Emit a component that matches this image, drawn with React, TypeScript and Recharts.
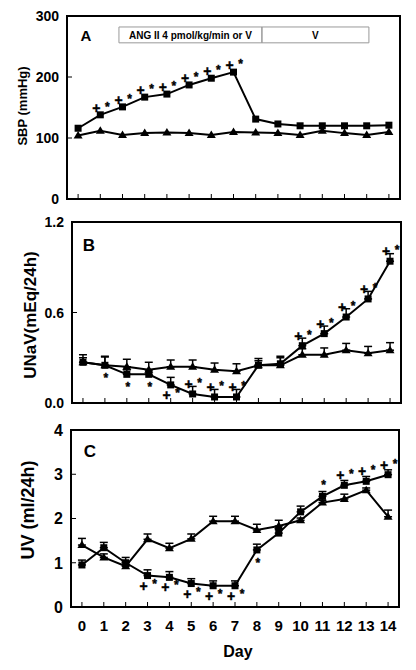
import React from 'react';
import { LineChart, Line, XAxis, YAxis, ErrorBar, ReferenceArea, LabelList } from 'recharts';

const FONT = '"Liberation Sans", Arial, Helvetica, sans-serif';

const days = [0, 1, 2, 3, 4, 5, 6, 7, 8, 9, 10, 11, 12, 13, 14];

// A: systolic blood pressure (mmHg)
const sbpAng = [116, 138, 151, 167, 172, 187, 198, 208, 131, 123, 120, 120, 120, 120, 121];
const sbpVeh = [104, 112, 105, 108, 109, 108, 105, 110, 109, 108, 105, 112, 108, 105, 110];
const sbpSig = ['', 'u+*', 'u+*', 'u+*', 'u+*', 'u+*', 'u+*', 'u+*', '', '', '', '', '', '', ''];

// B: urinary sodium excretion (mEq/24h)
const unavAng = [0.27, 0.25, 0.19, 0.19, 0.12, 0.06, 0.04, 0.04, 0.25, 0.26, 0.38, 0.46, 0.57, 0.69, 0.94];
const unavVeh = [0.27, 0.25, 0.24, 0.22, 0.24, 0.24, 0.22, 0.21, 0.25, 0.25, 0.32, 0.32, 0.35, 0.33, 0.35];
const unavAngErr = [0.03, 0.06, 0.03, 0.03, 0.05, 0.05, 0.05, 0.05, 0.03, 0.05, 0.05, 0.05, 0.055, 0.05, 0.05];
const unavVehErr = [0.05, 0.055, 0.05, 0.05, 0.045, 0.045, 0.045, 0.05, 0.045, 0.05, 0.04, 0.045, 0.045, 0.045, 0.05];
const unavSig = ['', 'd*', 'd*', 'd*', 'd+*', 'u+*', 'u+*', 'u+*', '', '', 'u+*', 'u+*', 'u+*', 'u+*', 'u+*'];

// C: urine volume (ml/24h)
const uvAng = [0.95, 1.34, 1.0, 0.71, 0.67, 0.53, 0.48, 0.48, 1.29, 1.67, 2.15, 2.5, 2.75, 2.84, 2.99];
const uvVeh = [1.4, 1.12, 0.92, 1.53, 1.33, 1.54, 1.94, 1.94, 1.74, 1.83, 1.96, 2.36, 2.44, 2.64, 2.04];
const uvAngErr = [0.11, 0.12, 0.12, 0.13, 0.13, 0.11, 0.11, 0.11, 0.13, 0.08, 0.13, 0.11, 0.11, 0.11, 0.11];
const uvVehErr = [0.15, 0.08, 0.1, 0.12, 0.11, 0.11, 0.11, 0.11, 0.13, 0.13, 0.05, 0.05, 0.11, 0.05, 0.15];
const uvSig = ['', '', '', 'd+*', 'd+*', 'd+*', 'd+*', 'd+*', 'd*', '', '', 'u*', 'u+*', 'u+*', 'u+*'];

const sbpTicks = [0, 100, 200, 300];
const unavTicks = [0, 0.6, 1.2];
const uvTicks = [0, 1, 2, 3, 4];

const buildRows = (ang: number[], veh: number[], angErr: number[] | null, vehErr: number[] | null, sig: string[]) =>
  days.map((d, i) => ({
    day: d,
    ang: ang[i],
    veh: veh[i],
    angErr: angErr ? angErr[i] : 0,
    vehErr: vehErr ? vehErr[i] : 0,
    sig: sig[i],
  }));

const squareDot = (p: any) => {
  if (p.cx == null || p.cy == null) return <g key={`s${p.index}`} />;
  return <rect key={`s${p.index}`} x={p.cx - 3.5} y={p.cy - 3.5} width={7} height={7} fill="#000" />;
};

const triDot = (p: any) => {
  if (p.cx == null || p.cy == null) return <g key={`t${p.index}`} />;
  const { cx, cy } = p;
  return <path key={`t${p.index}`} d={`M${cx},${cy - 4.5} L${cx + 4.5},${cy + 3} L${cx - 4.5},${cy + 3} Z`} fill="#000" />;
};

const markStyle = { fontWeight: 'bold' as const, fontFamily: FONT, fill: '#000', stroke: '#000', strokeWidth: 0.4 };

const sigContent = (upDy: number) => (props: any) => {
  const vb = props.viewBox || {};
  const x = props.x ?? vb.x;
  const y = props.y ?? vb.y;
  const value = props.value as string;
  if (!value || x == null || y == null) return null;
  const up = value[0] === 'u';
  const marks = value.slice(1);
  const plusY = up ? y + upDy : y + 10;
  const starY = up ? y + upDy - 3 : y + 6;
  if (marks === '*') {
    const sy = up ? y + upDy - 3 : y + 11;
    return (
      <text x={x + 1} y={sy + 6} textAnchor="middle" fontSize={12} {...markStyle}>*</text>
    );
  }
  return (
    <g>
      <text x={x - 4} y={plusY + 5} textAnchor="middle" fontSize={14} {...markStyle}>+</text>
      <text x={x + 7} y={starY + 6} textAnchor="middle" fontSize={12} {...markStyle}>*</text>
    </g>
  );
};

const xTick = (fontSize: number, showLabel: boolean) => (p: any) => (
  <g>
    <line x1={p.x} x2={p.x} y1={p.y} y2={p.y - 5} stroke="#000" strokeWidth={1} />
    {showLabel && (
      <text x={p.x} y={p.y + 24} textAnchor="middle" fontSize={fontSize} fontWeight="bold" fontFamily={FONT} fill="#000">
        {p.payload.value}
      </text>
    )}
  </g>
);

const yTick = (fontSize: number, fmt: (v: number) => string) => (p: any) => (
  <g>
    <line x1={p.x} x2={p.x + 5} y1={p.y} y2={p.y} stroke="#000" strokeWidth={1} />
    <text x={p.x - 8} y={p.y + fontSize * 0.36} textAnchor="end" fontSize={fontSize} fontWeight="bold" fontFamily={FONT} fill="#000">
      {fmt(p.payload.value)}
    </text>
  </g>
);

const yTitle = (text: string, offX: number, offY: number, fontSize: number) => (p: any) => {
  const vb = p.viewBox;
  const x = vb.x + offX;
  const y = vb.y + vb.height / 2 + offY;
  return (
    <text x={x} y={y} transform={`rotate(-90 ${x} ${y})`} textAnchor="middle" dy="0.36em" fontSize={fontSize} fontWeight="bold" fontFamily={FONT} fill="#000">
      {text}
    </text>
  );
};

const panelLetter = (letter: string, dx: number, dy: number, fontSize: number) => (p: any) => (
  <text x={p.viewBox.x + dx} y={p.viewBox.y + dy} textAnchor="middle" fontSize={fontSize} fontWeight="bold" fontFamily={FONT} fill="#000">
    {letter}
  </text>
);

const boxLabel = (text: string) => (p: any) => (
  <text x={p.viewBox.x + p.viewBox.width / 2} y={p.viewBox.y + p.viewBox.height / 2 + 3.6} textAnchor="middle" fontSize={10} fontWeight="bold" fontFamily={FONT} fill="#000">
    {text}
  </text>
);

const App: React.FC = () => {
  const rowsA = buildRows(sbpAng, sbpVeh, null, null, sbpSig);
  const rowsB = buildRows(unavAng, unavVeh, unavAngErr, unavVehErr, unavSig);
  const rowsC = buildRows(uvAng, uvVeh, uvAngErr, uvVehErr, uvSig);

  return (
    <div style={{ position: 'absolute', left: 0, top: 0, width: 416, height: 670, background: '#fff', fontFamily: FONT }}>
      <div style={{ position: 'absolute', left: 0, top: 0 }}>
        <LineChart width={416} height={215} data={rowsA} margin={{ top: 16, right: 16, bottom: 0, left: 0 }}>
          <XAxis dataKey="day" type="number" domain={[-0.5, 14.5]} ticks={days} interval={0} height={16}
            axisLine={false} tickLine={false} tickSize={0} tickMargin={0} tick={xTick(14, false)} />
          <YAxis type="number" domain={[0, 300]} ticks={sbpTicks} width={67} axisLine={false} tickLine={false}
            tickSize={0} tickMargin={0} tick={yTick(14, (v) => String(v))} label={yTitle('SBP (mmHg)', 22, -1.5, 13)} />
          <ReferenceArea x1={-0.5} x2={14.5} y1={0} y2={300} fill="none" stroke="#000" strokeWidth={2}
            label={panelLetter('A', 19, 25, 15)} />
          <ReferenceArea x1={1.84} x2={8.28} y1={256} y2={282} fill="none" stroke="#999" strokeWidth={1}
            label={boxLabel('ANG II 4 pmol/kg/min or V')} />
          <ReferenceArea x1={8.28} x2={13.1} y1={256} y2={282} fill="none" stroke="#999" strokeWidth={1}
            label={boxLabel('V')} />
          <Line dataKey="veh" stroke="#000" strokeWidth={2} dot={triDot} activeDot={false} isAnimationActive={false} />
          <Line dataKey="ang" stroke="#000" strokeWidth={2} dot={squareDot} activeDot={false} isAnimationActive={false}>
            <LabelList dataKey="sig" content={sigContent(-7)} />
          </Line>
        </LineChart>
      </div>

      <div style={{ position: 'absolute', left: 0, top: 210 }}>
        <LineChart width={416} height={210} data={rowsB} margin={{ top: 12, right: 15, bottom: 0, left: 0 }}>
          <XAxis dataKey="day" type="number" domain={[-0.5, 14.5]} ticks={days} interval={0} height={17}
            axisLine={false} tickLine={false} tickSize={0} tickMargin={0} tick={xTick(14, false)} />
          <YAxis type="number" domain={[0, 1.2]} ticks={unavTicks} width={72} axisLine={false} tickLine={false}
            tickSize={0} tickMargin={0} tick={yTick(14, (v) => v.toFixed(1))} label={yTitle('UNaV(mEq/24h)', 30, 2.5, 17)} />
          <ReferenceArea x1={-0.5} x2={14.5} y1={0} y2={1.2} fill="none" stroke="#000" strokeWidth={2}
            label={panelLetter('B', 17, 29, 17)} />
          <Line dataKey="veh" stroke="#000" strokeWidth={2} dot={triDot} activeDot={false} isAnimationActive={false}>
            <ErrorBar dataKey={(d: any) => [0, d.vehErr]} direction="y" width={4} stroke="#000" strokeWidth={1.5} />
          </Line>
          <Line dataKey="ang" stroke="#000" strokeWidth={2} dot={squareDot} activeDot={false} isAnimationActive={false}>
            <ErrorBar dataKey={(d: any) => [0, d.angErr]} direction="y" width={4} stroke="#000" strokeWidth={1.5} />
            <LabelList dataKey="sig" content={sigContent(-10)} />
          </Line>
        </LineChart>
      </div>

      <div style={{ position: 'absolute', left: 0, top: 420 }}>
        <LineChart width={416} height={250} data={rowsC} margin={{ top: 10, right: 17, bottom: 0, left: 0 }}>
          <XAxis dataKey="day" type="number" domain={[-0.5, 14.5]} ticks={days} interval={0} height={63}
            axisLine={false} tickLine={false} tickSize={0} tickMargin={0} tick={xTick(15, true)}
            label={(p: any) => (
              <text x={p.viewBox.x + p.viewBox.width / 2 + 3} y={p.viewBox.y + 50} textAnchor="middle" fontSize={16}
                fontWeight="bold" fontFamily={FONT} fill="#000">Day</text>
            )} />
          <YAxis type="number" domain={[0, 4]} ticks={uvTicks} width={71} axisLine={false} tickLine={false}
            tickSize={0} tickMargin={0} tick={yTick(16, (v) => String(v))} label={yTitle('UV (ml/24h)', 27.5, -8.5, 18)} />
          <ReferenceArea x1={-0.5} x2={14.5} y1={0} y2={4} fill="none" stroke="#000" strokeWidth={2}
            label={panelLetter('C', 19, 27, 17)} />
          <Line dataKey="veh" stroke="#000" strokeWidth={2} dot={triDot} activeDot={false} isAnimationActive={false}>
            <ErrorBar dataKey={(d: any) => [0, d.vehErr]} direction="y" width={4} stroke="#000" strokeWidth={1.5} />
          </Line>
          <Line dataKey="ang" stroke="#000" strokeWidth={2} dot={squareDot} activeDot={false} isAnimationActive={false}>
            <ErrorBar dataKey={(d: any) => [0, d.angErr]} direction="y" width={4} stroke="#000" strokeWidth={1.5} />
            <LabelList dataKey="sig" content={sigContent(-10)} />
          </Line>
        </LineChart>
      </div>
    </div>
  );
};

export default App;
